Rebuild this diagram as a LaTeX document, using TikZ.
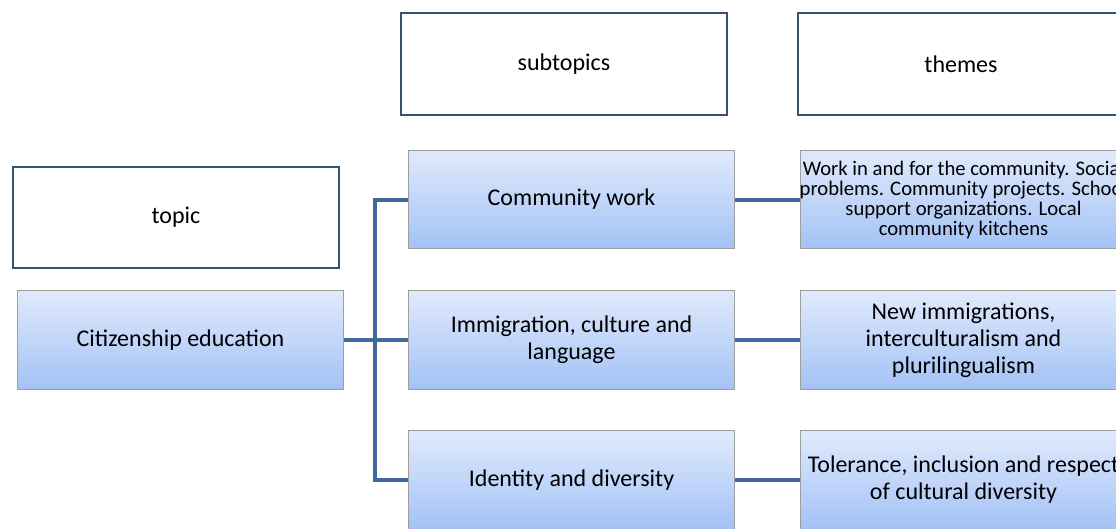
\documentclass[tikz,border=0pt]{standalone}
\usepackage{fontspec}
\setmainfont{Carlito}
\definecolor{linkcol}{RGB}{65,105,156}
\definecolor{boxtop}{RGB}{224,234,252}
\definecolor{boxbot}{RGB}{163,194,246}
\definecolor{headcol}{RGB}{56,80,116}
\tikzset{
  head/.style={draw=headcol,line width=1.5pt,fill=white,minimum width=245pt,minimum height=76pt,font=\fontsize{18}{20.3}\selectfont},
  item/.style={draw=black!38,line width=0.8pt,top color=boxtop,bottom color=boxbot,minimum width=245pt,minimum height=74pt,align=center,inner sep=2pt,font=\fontsize{18}{20.3}\selectfont},
  note/.style={align=center,inner sep=0pt,font=\fontsize{15.5}{15}\selectfont},
  link/.style={draw=linkcol,line width=3pt},
}

\begin{document}
\begin{tikzpicture}[x=0.75pt,y=-0.75pt]
  \useasboundingbox (0,0) rectangle (1116,528);
  \clip (0,0) rectangle (1116,528);
  % column headings
  \node[head] (topic) at (176,217.5) {topic};
  \node[head] (subhead) at (564,64) {subtopics};
  \node[head] (themehead) at (961,64) {themes};
  % topic and subtopics
  \node[item] (cit) at (180.5,340) {Citizenship education};
  \node[item] (comm) at (571.5,199.5) {Community work};
  \node[item] (imm) at (571.5,340) {Immigration, culture and\\language};
  \node[item] (ident) at (571.5,480) {Identity and diversity};
  % themes (the first text runs wider than its box)
  \node[item] (th1) at (963.5,199.5) {};
  \node[note] (th1text) at (th1) {Work in and for the community. Social\\problems. Community projects. School\\support organizations. Local\\community kitchens};
  \node[item] (th2) at (963.5,340) {New immigrations,\\interculturalism and\\plurilingualism};
  \node[item] (th3) at (963.5,480) {Tolerance, inclusion and respect\\of cultural diversity};
  % branches
  \coordinate (fork) at (375,340);
  \draw[link] (comm.west) -| (fork) |- (ident.west);
  \draw[link] (cit.east) -- (imm.west);
  \draw[link] (comm) -- (th1);
  \draw[link] (imm) -- (th2);
  \draw[link] (ident) -- (th3);
\end{tikzpicture}
\end{document}
